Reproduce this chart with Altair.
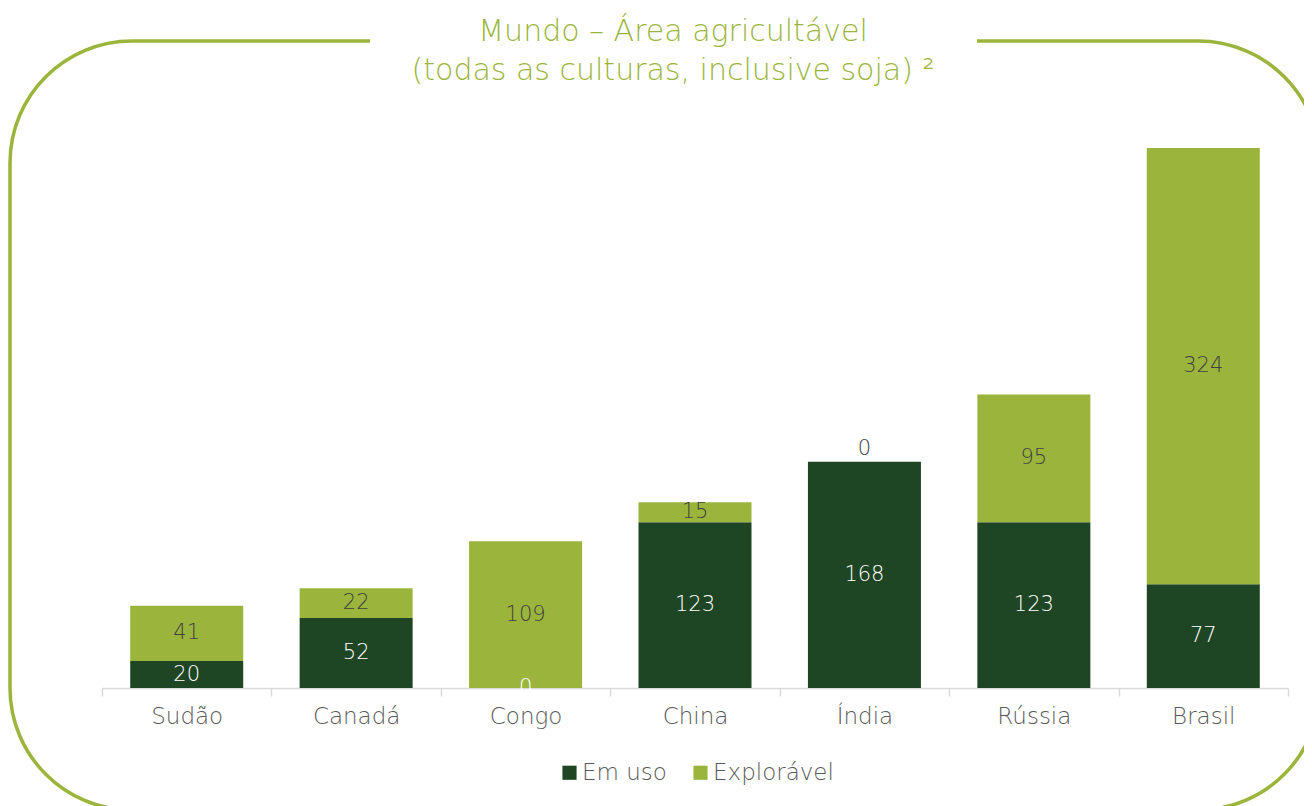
import altair as alt
import pandas as pd

categories = ["Sudão", "Canadá", "Congo", "China", "Índia", "Rússia", "Brasil"]
em_uso = [20, 52, 0, 123, 168, 123, 77]
exploravel = [41, 22, 109, 15, 0, 95, 324]
series = ["Em uso", "Explorável"]
title_lines = ["Mundo – Área agricultável", "(todas as culturas, inclusive soja) ²"]

DARK = "#1F4624"
LIGHT = "#9BB53C"
FONT = "DejaVu Sans"
FW = 200

rows = []
for c, a, b in zip(categories, em_uso, exploravel):
    rows.append({"pais": c, "serie": series[0], "v": a, "ord": 0})
    rows.append({"pais": c, "serie": series[1], "v": b, "ord": 1})
df = pd.DataFrame(rows)

W, H = 1186, 606
x_enc = alt.X("pais:N", sort=categories, title=None,
              scale=alt.Scale(paddingInner=0, paddingOuter=0),
              axis=alt.Axis(labelAngle=0, tickBand="extent", domainColor="#D9D9D9",
                            domainWidth=1.5, tickColor="#D9D9D9", tickWidth=1.5, tickSize=8,
                            labelFontSize=23, labelColor="#595959", labelFont=FONT,
                            labelPadding=9, labelFontWeight=FW))
y_scale = alt.Scale(domain=[0, 450])

base = alt.Chart(df)

bars = base.mark_bar(width=alt.RelativeBandSize(0.667)).encode(
    x=x_enc,
    y=alt.Y("v:Q", stack="zero", scale=y_scale, axis=None),
    color=alt.Color("serie:N", scale=alt.Scale(domain=series, range=[DARK, LIGHT]),
                    legend=alt.Legend(title=None, orient="none", direction="horizontal",
                                      legendX=456, legendY=679, symbolType="square",
                                      symbolSize=200, symbolStrokeWidth=0,
                                      labelFontSize=23, labelColor="#595959", labelFont=FONT,
                                      labelFontWeight=FW, labelOffset=1, columnPadding=22)),
    order=alt.Order("ord:Q"),
)

stacked = base.transform_stack(
    stack="v", groupby=["pais"], as_=["y0", "y1"], sort=[alt.SortField("ord")]
).transform_calculate(mid="(datum.y0 + datum.y1) / 2")

labels = stacked.transform_filter(
    "!(datum.v == 0 && datum.serie == 'Explorável')"
).mark_text(fontSize=21, font=FONT, fontWeight=FW, baseline="middle").encode(
    x=alt.X("pais:N", sort=categories),
    y=alt.Y("mid:Q", scale=y_scale),
    text=alt.Text("v:Q"),
    color=alt.Color("serie:N", scale=alt.Scale(domain=series, range=["#FFFFFF", "#404040"]), legend=None),
)

zero_top = stacked.transform_filter(
    "datum.v == 0 && datum.serie == 'Explorável'"
).mark_text(fontSize=21, font=FONT, fontWeight=FW, baseline="bottom", dy=-3, color="#404040").encode(
    x=alt.X("pais:N", sort=categories),
    y=alt.Y("y1:Q", scale=y_scale),
    text=alt.Text("v:Q"),
)

one = pd.DataFrame({"t": ["\n".join(title_lines)]})

border = alt.Chart(one).mark_rect(
    fill=None, filled=False, stroke=LIGHT, strokeWidth=3.5, cornerRadius=122
).encode(x=alt.value(-92), x2=alt.value(1218), y=alt.value(-41), y2=alt.value(728))

gap = alt.Chart(one).mark_rect(fill="white", stroke=None).encode(
    x=alt.value(268), x2=alt.value(875), y=alt.value(-48), y2=alt.value(-34))

title = alt.Chart(one).mark_text(
    font=FONT, fontSize=30, fontWeight=FW, color=LIGHT, lineBreak="\n",
    lineHeight=39, baseline="alphabetic", align="center"
).encode(x=alt.value(571), y=alt.value(-41), text="t:N")

chart = alt.layer(border, gap, bars, labels, zero_top, title).resolve_scale(
    color="independent"
).properties(
    width=W, height=H,
    autosize=alt.AutoSizeParams(type="none"),
    padding={"left": 94, "top": 74, "right": 16, "bottom": 118},
).configure_view(stroke=None)

chart.save("out.html", embed_options={"renderer": "svg", "actions": False})
